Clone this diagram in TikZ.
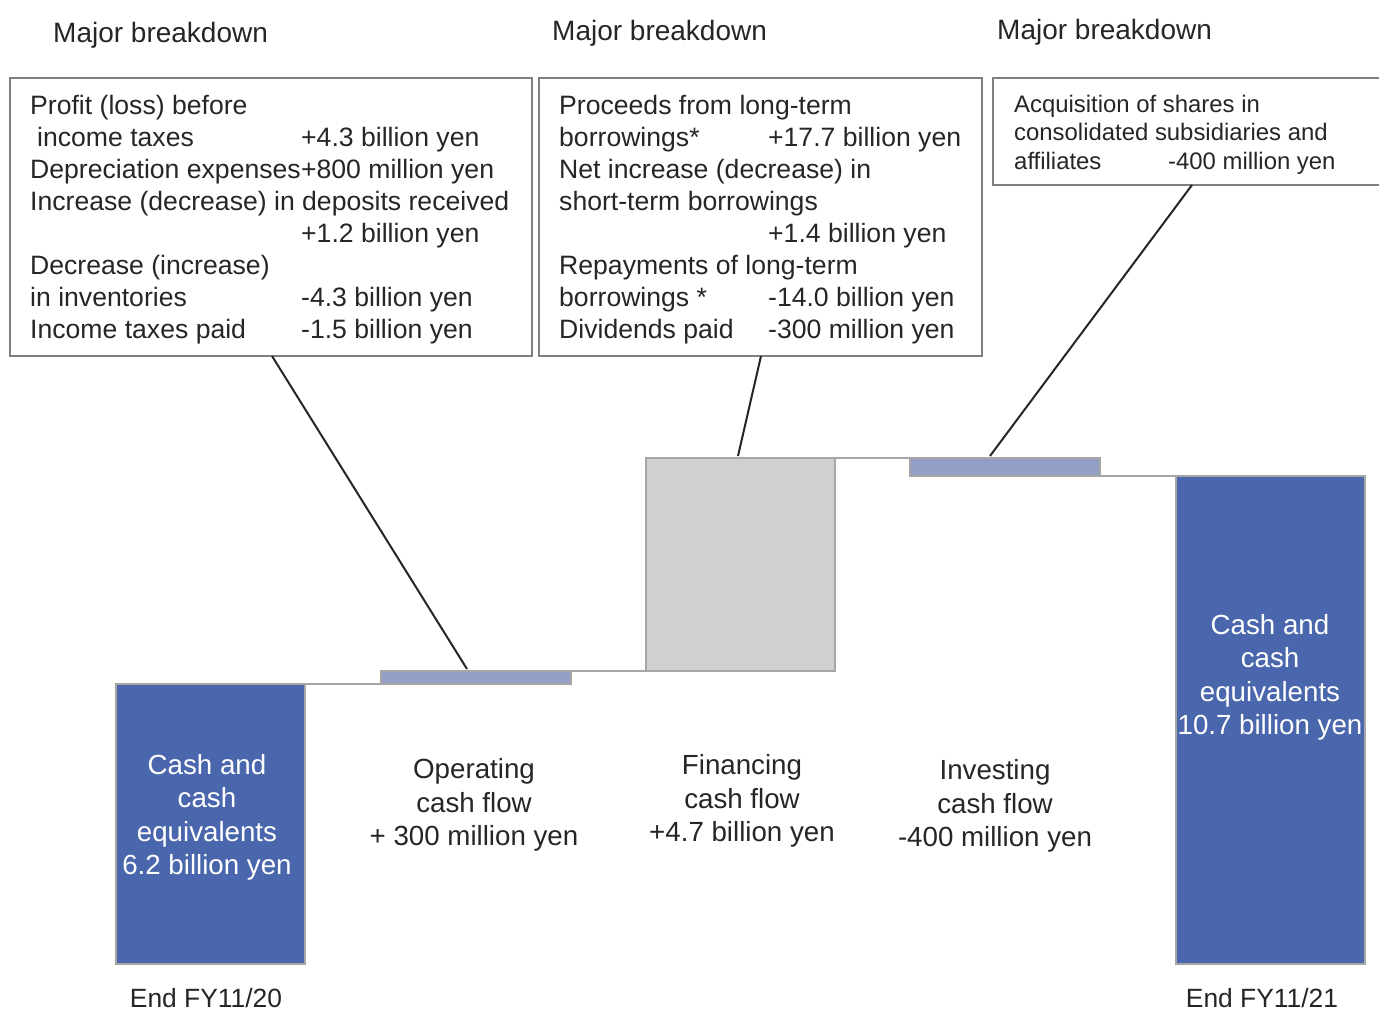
\documentclass[tikz,border=0pt]{standalone}
\usepackage{fontspec}
\setmainfont{Liberation Sans}
\usetikzlibrary{calc}
\definecolor{txt}{HTML}{262626}
\definecolor{boxgray}{HTML}{808080}
\definecolor{bargray}{HTML}{A6A6A6}
\definecolor{darkbar}{HTML}{4A66AC}
\definecolor{lightbar}{HTML}{949FC7}
\definecolor{graybar}{HTML}{D0D0D0}
\newcommand\colA[1]{\makebox[271pt][l]{#1}}
\newcommand\colB[1]{\makebox[209pt][l]{#1}}
\newcommand\colC[1]{\makebox[154pt][l]{#1}}
\begin{document}
\begin{tikzpicture}[x=1pt,y=-1pt,
  breakbox/.style={draw=boxgray, line width=1.5pt, inner sep=0pt, outer sep=0pt, anchor=north west, rectangle},
  boxtext/.style={text=txt, inner sep=0pt, anchor=base west, font=\fontsize{26.6pt}{32pt}\selectfont},
  smalltext/.style={text=txt, inner sep=0pt, anchor=base west, font=\fontsize{23.9pt}{28.5pt}\selectfont},
  title/.style={text=txt, inner sep=0pt, anchor=base west, font=\fontsize{28pt}{33pt}\selectfont},
  bar/.style={draw=bargray, line width=2pt, inner sep=0pt, outer sep=0pt, anchor=north west, rectangle},
  barlabel/.style={inner sep=0pt, align=center, font=\fontsize{27.7pt}{33.5pt}\selectfont},
  conn/.style={draw=bargray, line width=2pt},
  callout/.style={draw=txt, line width=2pt},
  endlabel/.style={text=txt, inner sep=0pt, anchor=base, font=\fontsize{26.4pt}{32pt}\selectfont}]
\useasboundingbox[fill=white] (0,0) rectangle (1379,1010);

% titles
\node[title] (h1) at (53,42) {Major breakdown};
\node[title] (h2) at (552,40) {Major breakdown};
\node[title] (h3) at (997,39) {Major breakdown};

% breakdown boxes
\node[breakbox, minimum width=522pt, minimum height=278pt] (box1) at (10,78) {};
\node[breakbox, minimum width=443pt, minimum height=278pt] (box2) at (539,78) {};
\node[breakbox, minimum width=400pt, minimum height=107pt] (box3) at (993,78) {};

\node[boxtext] (t1) at (30,114) {\begin{tabular}[t]{@{}l@{}l@{}}
\colA{Profit (loss) before} & \\
\colA{\hspace{7pt}income taxes} & +4.3 billion yen\\
\colA{Depreciation expenses} & +800 million yen\\
\multicolumn{2}{@{}l@{}}{Increase (decrease) in deposits received}\\
\colA{} & +1.2 billion yen\\
\colA{Decrease (increase)} & \\
\colA{in inventories} & -4.3 billion yen\\
\colA{Income taxes paid} & -1.5 billion yen
\end{tabular}};

\node[boxtext] (t2) at (559,114) {\begin{tabular}[t]{@{}l@{}l@{}}
\colB{Proceeds from long-term} & \\
\colB{borrowings*} & +17.7 billion yen\\
\colB{Net increase (decrease) in} & \\
\colB{short-term borrowings} & \\
\colB{} & +1.4 billion yen\\
\colB{Repayments of long-term} & \\
\colB{borrowings *} & -14.0 billion yen\\
\colB{Dividends paid} & -300 million yen
\end{tabular}};

\node[smalltext] (t3) at (1014,112) {\begin{tabular}[t]{@{}l@{}l@{}}
\colC{Acquisition of shares in} & \\
\multicolumn{2}{@{}l@{}}{consolidated subsidiaries and}\\
\colC{affiliates} & -400 million yen
\end{tabular}};

% bars
\node[bar, fill=darkbar, minimum width=189pt, minimum height=280pt] (b1) at (116,684) {};
\node[bar, fill=lightbar, minimum width=190pt, minimum height=13pt] (b2) at (381,671) {};
\node[bar, fill=graybar, minimum width=189pt, minimum height=213pt] (b3) at (646,458) {};
\node[bar, fill=lightbar, minimum width=190pt, minimum height=18pt] (b4) at (910,458) {};
\node[bar, fill=darkbar, minimum width=189pt, minimum height=488pt] (b5) at (1176,476) {};

% step connectors
\draw[conn] (b1.north east) -- (b2.south west);
\draw[conn] (b2.north east) -- (b3.south west);
\draw[conn] (b3.north east) -- (b4.north west);
\draw[conn] (b4.south east) -- (b5.north west);

% callout lines
\draw[callout] ($(box1.south west)+(262,0)$) -- ($(b2.north west)+(86,-2)$);
\draw[callout] ($(box2.south west)+(222,0)$) -- ($(b3.north west)+(92,-2)$);
\draw[callout] ($(box3.south west)+(199,0)$) -- ($(b4.north west)+(80,-2)$);

% bar labels
\node[barlabel, text=white] (l1) at (207,817.5) {Cash and\\cash\\equivalents\\6.2 billion yen};
\node[barlabel, text=white] (l5) at (1270,677.5) {Cash and\\cash\\equivalents\\10.7 billion yen};
\node[barlabel, text=txt] (l2) at (474,805) {Operating\\cash flow\\+ 300 million yen};
\node[barlabel, text=txt] (l3) at (742,801) {Financing\\cash flow\\+4.7 billion yen};
\node[barlabel, text=txt] (l4) at (995,806) {Investing\\cash flow\\-400 million yen};

% period labels
\node[endlabel] (e1) at (206,1007) {End FY11/20};
\node[endlabel] (e2) at (1262,1007) {End FY11/21};
\end{tikzpicture}
\end{document}
